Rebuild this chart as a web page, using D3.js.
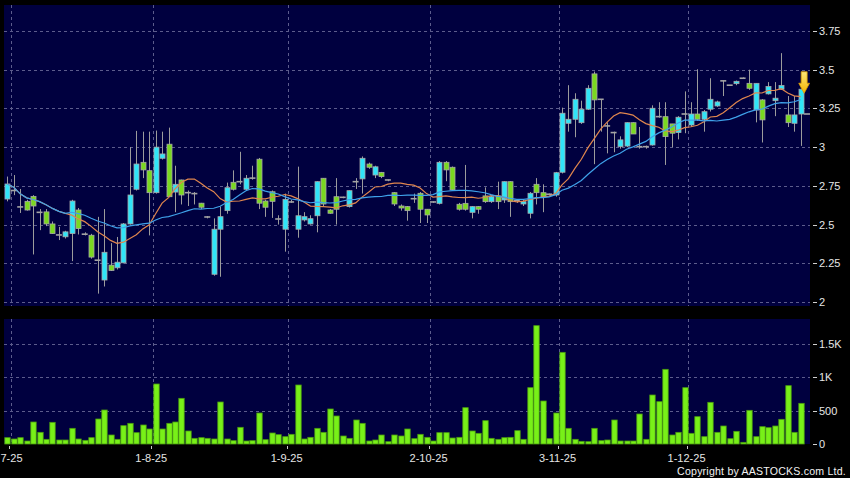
<!DOCTYPE html>
<html><head><meta charset="utf-8">
<script src="https://cdn.jsdelivr.net/npm/d3@7"></script>
<style>html,body{margin:0;padding:0;background:#000;}svg{display:block;}</style>
</head><body><svg id="c" width="850" height="478"></svg>
<script>
// ---- data ----
const open = [2.665,2.72,2.614,2.650,2.682,2.579,2.582,2.504,2.433,2.421,
2.442,2.594,2.438,2.431,2.27,2.142,2.238,2.221,2.253,2.504,
2.728,2.902,2.848,2.706,2.928,3.019,2.71,2.788,2.706,2.70,
2.638,2.549,2.179,2.47,2.59,2.773,2.777,2.728,2.80,2.922,
2.652,2.712,2.536,2.47,2.646,2.47,2.53,2.504,2.557,2.799,
2.594,2.68,2.676,2.616,2.777,2.795,2.891,2.82,2.837,2.788,
2.706,2.62,2.616,2.667,2.702,2.599,2.646,2.637,2.902,2.87,
2.631,2.637,2.579,2.616,2.685,2.648,2.685,2.659,2.777,2.655,
2.633,2.573,2.76,2.706,2.696,2.691,2.838,3.154,3.18,3.158,
3.245,3.473,3.309,3.137,3.094,3.003,3.007,3.158,3.003,3.003,
3.014,3.197,3.197,3.15,3.094,3.214,3.143,3.214,3.18,3.245,
3.266,3.428,3.40,3.41,3.445,3.412,3.24,3.305,3.344,3.30,
3.374,3.208,3.154,3.214,3.214];
const high = [2.81,2.82,2.73,2.66,2.69,2.60,2.60,2.52,2.485,2.46,
2.66,2.607,2.45,2.44,2.55,2.60,2.38,2.42,2.51,3.00,
3.105,3.10,3.10,3.107,3.10,3.126,2.88,2.79,2.72,2.71,
2.64,2.555,2.54,2.616,2.771,2.85,2.97,2.82,2.88,2.93,
2.66,2.72,2.56,2.70,2.66,2.874,2.58,2.56,2.78,2.80,
2.60,2.80,2.68,2.72,2.80,2.94,2.90,2.88,2.84,2.79,
2.71,2.63,2.62,2.70,2.71,2.60,2.65,2.91,2.91,2.875,
2.64,2.885,2.62,2.62,2.74,2.69,2.777,2.78,2.78,2.66,
2.66,2.71,2.80,2.76,2.70,2.84,3.255,3.40,3.348,3.30,
3.40,3.488,3.31,3.16,3.10,3.07,3.16,3.16,3.13,3.01,
3.27,3.29,3.29,3.15,3.20,3.36,3.29,3.503,3.24,3.445,
3.30,3.43,3.40,3.43,3.45,3.50,3.412,3.31,3.42,3.42,
3.607,3.33,3.33,3.374,3.214];
const low = [2.65,2.69,2.575,2.59,2.307,2.464,2.49,2.44,2.40,2.41,
2.264,2.436,2.43,2.28,2.054,2.10,2.20,2.21,2.25,2.50,
2.72,2.80,2.43,2.70,2.92,2.68,2.58,2.63,2.62,2.63,
2.60,2.54,2.17,2.163,2.57,2.72,2.76,2.72,2.79,2.60,
2.55,2.543,2.50,2.325,2.64,2.415,2.52,2.50,2.45,2.62,
2.57,2.50,2.67,2.61,2.73,2.70,2.86,2.80,2.80,2.78,
2.62,2.59,2.525,2.64,2.51,2.51,2.64,2.63,2.78,2.72,
2.59,2.59,2.54,2.57,2.64,2.64,2.60,2.64,2.55,2.64,
2.62,2.54,2.63,2.58,2.69,2.68,2.83,3.10,3.064,3.15,
3.24,2.89,3.10,2.96,2.967,2.99,3.00,3.085,2.99,2.99,
3.01,3.19,2.885,3.00,3.05,3.09,3.13,3.17,3.10,3.23,
3.26,3.33,3.40,3.40,3.44,3.37,3.16,3.03,3.34,3.20,
3.37,3.13,3.10,3.008,3.214];
const close = [2.762,2.72,2.614,2.594,2.620,2.579,2.504,2.442,2.433,2.453,
2.652,2.474,2.438,2.29,2.27,2.321,2.204,2.257,2.504,2.691,
2.891,2.853,2.706,3.0,2.956,2.68,2.76,2.691,2.706,2.70,
2.612,2.549,2.47,2.551,2.738,2.728,2.777,2.799,2.80,2.638,
2.612,2.65,2.536,2.663,2.646,2.557,2.551,2.538,2.777,2.633,
2.573,2.599,2.676,2.719,2.777,2.928,2.87,2.873,2.81,2.788,
2.633,2.607,2.59,2.667,2.599,2.562,2.646,2.902,2.853,2.724,
2.599,2.599,2.616,2.599,2.648,2.68,2.648,2.777,2.648,2.655,
2.648,2.702,2.706,2.68,2.696,2.835,3.219,3.18,3.309,3.245,
3.38,3.305,3.309,3.137,3.094,3.047,3.158,3.085,3.003,3.003,
3.251,3.197,3.068,3.09,3.193,3.214,3.214,3.18,3.229,3.309,
3.292,3.428,3.40,3.425,3.445,3.38,3.412,3.176,3.391,3.316,
3.398,3.158,3.208,3.374,3.214];
const volume = [95,75,95,45,330,175,70,325,60,60,
235,75,55,95,375,510,135,70,275,310,
170,285,225,900,225,310,330,685,195,85,
95,85,75,630,75,50,250,45,50,465,
65,165,140,110,145,885,75,100,235,175,
525,420,120,85,360,310,45,60,135,35,
135,120,225,80,145,100,45,170,170,90,
100,545,195,160,350,85,70,95,100,200,
70,845,1775,645,80,465,1375,235,70,40,
35,235,50,60,360,45,45,45,450,70,
735,635,1120,135,175,845,160,410,110,625,
175,270,80,190,25,505,110,260,245,270,
370,875,175,610,0];
const dateTickLabels = ["7-25","1-8-25","1-9-25","2-10-25","3-11-25","1-12-25"];
const dateTickIndex = [0,22,43,65,85,105];
const priceTicks = [2,2.25,2.5,2.75,3,3.25,3.5,3.75];
const priceTickLabels = ["2","2.25","2.5","2.75","3","3.25","3.5","3.75"];
const volTicks = [0,500,1000,1500];
const volTickLabels = ["0","500","1K","1.5K"];
const maPeriods = [10,20];
const maColors = ["#e0864e","#3fa2ea"];
const markerIndex = 123;

// ---- layout ----
const svg = d3.select("#c");
const panelL = 4, panelR = 810;
const mainTop = 5, mainBot = 306;
const volTop = 319, volBot = 444;
const n = close.length;
const step = 6.45;
const x = d3.scaleLinear().domain([0, n-1]).range([7.3, 7.3 + (n-1)*step]);
const y = d3.scaleLinear().domain([2, 3.75]).range([302, 31]);
const yv = d3.scaleLinear().domain([0, 1500]).range([volBot, 344]);
const font = "'Liberation Sans', Arial, Helvetica, sans-serif";
const gridColor = "#5c5c8c";
const bg = "#00003f";

svg.append("rect").attr("width",850).attr("height",478).attr("fill","#000");
svg.append("rect").attr("x",panelL).attr("y",mainTop).attr("width",panelR-panelL).attr("height",mainBot-mainTop).attr("fill",bg);
svg.append("rect").attr("x",panelL).attr("y",volTop).attr("width",panelR-panelL).attr("height",volBot-volTop).attr("fill",bg);

const defs = svg.append("defs");
defs.append("clipPath").attr("id","clipMain").append("rect")
  .attr("x",panelL).attr("y",mainTop).attr("width",panelR-panelL).attr("height",mainBot-mainTop);
const grad = defs.append("linearGradient").attr("id","arrowGrad").attr("x1",0).attr("y1",0).attr("x2",0).attr("y2",1);
grad.append("stop").attr("offset","0%").attr("stop-color","#ffe77a");
grad.append("stop").attr("offset","100%").attr("stop-color","#f4b400");

// grid
const grid = svg.append("g").attr("stroke",gridColor).attr("stroke-width",1).attr("stroke-dasharray","3,3").attr("fill","none");
grid.selectAll("line.hp").data(priceTicks).join("line")
  .attr("x1",panelL).attr("x2",panelR)
  .attr("y1",d=>Math.round(y(d))+0.5).attr("y2",d=>Math.round(y(d))+0.5);
grid.selectAll("line.hv").data(volTicks.slice(1)).join("line")
  .attr("x1",panelL).attr("x2",panelR)
  .attr("y1",d=>Math.round(yv(d))+0.5).attr("y2",d=>Math.round(yv(d))+0.5);
grid.selectAll("line.vm").data(dateTickIndex).join("line")
  .attr("x1",d=>Math.round(x(d)+3.4)+0.5).attr("x2",d=>Math.round(x(d)+3.4)+0.5)
  .attr("y1",mainTop).attr("y2",mainBot);
grid.selectAll("line.vv").data(dateTickIndex).join("line").attr("class","vv")
  .attr("x1",d=>Math.round(x(d)+3.4)+0.5).attr("x2",d=>Math.round(x(d)+3.4)+0.5)
  .attr("y1",volTop).attr("y2",volBot);

// right axes
const axisG = svg.append("g");
axisG.selectAll("line.pt").data(priceTicks).join("line")
  .attr("x1",813).attr("x2",817).attr("y1",d=>Math.round(y(d))+0.5).attr("y2",d=>Math.round(y(d))+0.5)
  .attr("stroke","#d0d0d0");
axisG.selectAll("text.pt").data(priceTicks).join("text")
  .attr("x",819).attr("y",d=>y(d)).attr("dy","0.36em")
  .attr("fill","#e6e6e6").attr("font-family",font).attr("font-size","11px")
  .text((d,i)=>priceTickLabels[i]);
const vAxis = svg.append("g");
vAxis.selectAll("line").data(volTicks).join("line")
  .attr("x1",813).attr("x2",817).attr("y1",d=>Math.round(yv(d))+0.5).attr("y2",d=>Math.round(yv(d))+0.5)
  .attr("stroke","#d0d0d0");
vAxis.selectAll("text").data(volTicks).join("text")
  .attr("x",819).attr("y",d=>yv(d)).attr("dy","0.36em")
  .attr("fill","#e6e6e6").attr("font-family",font).attr("font-size","11px")
  .text((d,i)=>volTickLabels[i]);

// bottom date axis
const dAxis = svg.append("g");
dAxis.selectAll("line").data(dateTickIndex).join("line")
  .attr("x1",d=>Math.round(x(d)+2)+0.5).attr("x2",d=>Math.round(x(d)+2)+0.5)
  .attr("y1",446).attr("y2",449).attr("stroke","#c8c8c8");
dAxis.selectAll("text").data(dateTickIndex).join("text")
  .attr("y",462).attr("text-anchor","middle")
  .attr("fill","#e6e6e6").attr("font-family",font).attr("font-size","11px")
  .text((d,i)=>dateTickLabels[i])
  .attr("x",function(d){ const hw=this.getComputedTextLength()/2; return Math.max(x(d)+2, hw+0.5); });

// candles
const idx = d3.range(n);
const cg = svg.append("g").attr("clip-path","url(#clipMain)");
cg.selectAll("line.wick").data(idx).join("line")
  .attr("x1",i=>Math.round(x(i))+0.5).attr("x2",i=>Math.round(x(i))+0.5)
  .attr("y1",i=>y(high[i])).attr("y2",i=>y(low[i]))
  .attr("stroke","#9c9c9c").attr("stroke-width",1);
const bodies = idx.filter(i=>open[i]!==close[i]);
cg.selectAll("rect.body").data(bodies).join("rect")
  .attr("x",i=>Math.round(x(i))-2)
  .attr("width",5)
  .attr("y",i=>y(Math.max(open[i],close[i])))
  .attr("height",i=>Math.max(1,Math.abs(y(open[i])-y(close[i]))))
  .attr("fill",i=>close[i]>open[i] ? "#30e4f8" : "#7ad820")
  .attr("stroke","#a8a8a8").attr("stroke-width",0.8);
const dojis = idx.filter(i=>open[i]===close[i]);
cg.selectAll("line.doji").data(dojis).join("line")
  .attr("x1",i=>x(i)-3).attr("x2",i=>x(i)+3)
  .attr("y1",i=>y(close[i])).attr("y2",i=>y(close[i]))
  .attr("stroke","#a4a4a4").attr("stroke-width",1.6);

// moving averages of the closes
const traded = idx.filter(i=>volume[i]>0);
maPeriods.forEach((p,k)=>{
  const ma = close.map((v,i)=>d3.mean(close.slice(Math.max(0,i-p+1), i+1)));
  const line = d3.line().x(i=>x(i)).y(i=>y(ma[i])).curve(d3.curveLinear);
  cg.append("path").datum(traded).attr("d",line)
    .attr("fill","none").attr("stroke",maColors[k]).attr("stroke-width",1.2);
});

// marker arrow above the last candle
const ax = x(markerIndex)+3.5, ay = y(high[markerIndex])+4;
svg.append("path")
  .attr("d",`M${ax},${ay} L${ax-5.4},${ay-10} L${ax-3},${ay-10} L${ax-3},${ay-21.5} L${ax+3},${ay-21.5} L${ax+3},${ay-10} L${ax+5.4},${ay-10} Z`)
  .attr("fill","url(#arrowGrad)").attr("stroke","#dc9a00").attr("stroke-width",0.8);

// volume bars
svg.append("g").selectAll("rect").data(idx.filter(i=>volume[i]>0)).join("rect")
  .attr("x",i=>Math.round(x(i))-2.2)
  .attr("width",5.4)
  .attr("y",i=>yv(volume[i]))
  .attr("height",i=>volBot-yv(volume[i]))
  .attr("fill","#78f018").attr("stroke","#4a9a10").attr("stroke-width",0.8);

// copyright
svg.append("text").attr("x",846).attr("y",475).attr("text-anchor","end")
  .attr("fill","#f2f2f2").attr("font-family",font).attr("font-size","10.6px").attr("letter-spacing","0.2px")
  .text("Copyright by AASTOCKS.com Ltd.");
</script>
</body></html>
